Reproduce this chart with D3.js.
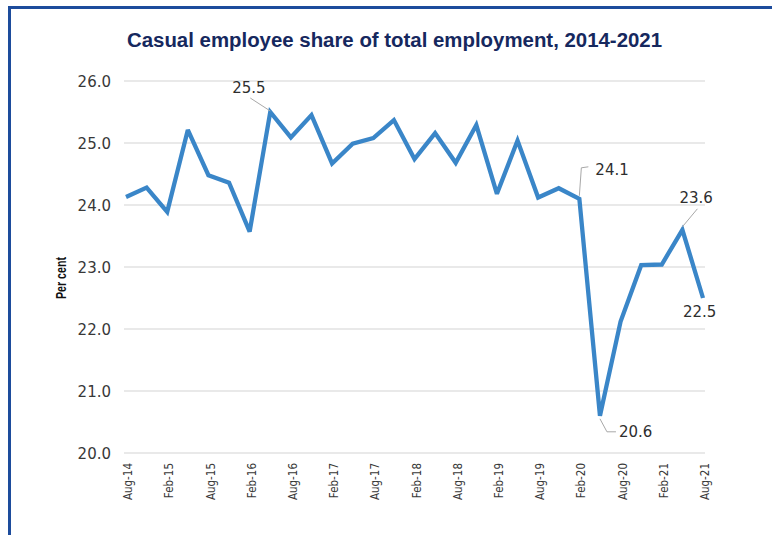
<!DOCTYPE html>
<html>
<head>
<meta charset="utf-8">
<script src="https://cdn.jsdelivr.net/npm/d3@7"></script>
<style>
  html, body { margin: 0; padding: 0; background: #fff; }
  svg { display: block; }
</style>
</head>
<body>
<svg id="chart" width="772" height="535"></svg>
<script>
// Quarterly observations, Aug-14 to Aug-21
const quarters = [
  "Aug-14","Nov-14","Feb-15","May-15","Aug-15","Nov-15","Feb-16","May-16",
  "Aug-16","Nov-16","Feb-17","May-17","Aug-17","Nov-17","Feb-18","May-18",
  "Aug-18","Nov-18","Feb-19","May-19","Aug-19","Nov-19","Feb-20","May-20",
  "Aug-20","Nov-20","Feb-21","May-21","Aug-21"
];
const casualShare = [
  24.13, 24.28, 23.89, 25.21, 24.48, 24.36, 23.57, 25.5,
  25.09, 25.45, 24.67, 24.99, 25.08, 25.37, 24.74, 25.16,
  24.68, 25.29, 24.18, 25.04, 24.12, 24.27, 24.1, 20.6,
  22.12, 23.03, 23.04, 23.6, 22.5
];
const xTickLabels = [
  "Aug-14","Feb-15","Aug-15","Feb-16","Aug-16","Feb-17","Aug-17","Feb-18",
  "Aug-18","Feb-19","Aug-19","Feb-20","Aug-20","Feb-21","Aug-21"
];
const yTickValues = [20, 21, 22, 23, 24, 25, 26];
const labelledQuarters = ["May-16", "Feb-20", "May-20", "May-21", "Aug-21"];

const svg = d3.select("#chart");

// frame lines along the top and left
svg.append("line").attr("x1", 8).attr("x2", 772).attr("y1", 7.5).attr("y2", 7.5)
  .attr("stroke", "#1d4c9c").attr("stroke-width", 3);
svg.append("line").attr("x1", 9.5).attr("x2", 9.5).attr("y1", 6).attr("y2", 535)
  .attr("stroke", "#1d4c9c").attr("stroke-width", 3);

const x = d3.scalePoint().domain(quarters).range([126, 703]);
const y = d3.scaleLinear().domain([20, 26]).range([453, 81]);

// title
svg.append("text")
  .attr("x", 127).attr("y", 47)
  .attr("textLength", 535).attr("lengthAdjust", "spacingAndGlyphs")
  .attr("font-family", "Liberation Sans, Arial, sans-serif")
  .attr("font-weight", "bold").attr("font-size", 19.5)
  .attr("fill", "#16285e")
  .text("Casual employee share of total employment, 2014-2021");

// horizontal gridlines
svg.append("g").selectAll("line").data(yTickValues).join("line")
  .attr("x1", 124).attr("x2", 705)
  .attr("y1", d => y(d)).attr("y2", d => y(d))
  .attr("stroke", "#e2e2e2").attr("stroke-width", 1.5);

// y axis labels
const yAxis = d3.axisLeft(y).tickValues(yTickValues).tickFormat(d3.format(".1f")).tickSize(0).tickPadding(0);
const yg = svg.append("g").attr("transform", "translate(111,0)").call(yAxis);
yg.select(".domain").remove();
yg.selectAll("text")
  .attr("font-family", "DejaVu Sans, Verdana, sans-serif")
  .attr("font-size", 15).attr("fill", "#383838").attr("dy", "0.36em");

// y axis title
svg.append("text")
  .attr("transform", "translate(66,278) rotate(-90)")
  .attr("text-anchor", "middle")
  .attr("textLength", 42).attr("lengthAdjust", "spacingAndGlyphs")
  .attr("font-family", "Liberation Sans, Arial, sans-serif")
  .attr("font-weight", "bold").attr("font-size", 14).attr("fill", "#111")
  .text("Per cent");

// x axis labels (rotated)
const xAxis = d3.axisBottom(x).tickValues(xTickLabels).tickSize(0).tickPadding(0);
const xg = svg.append("g").attr("transform", "translate(0,463)").call(xAxis);
xg.select(".domain").remove();
xg.selectAll("text")
  .attr("font-family", "DejaVu Sans Condensed, DejaVu Sans, sans-serif")
  .attr("font-size", 11.5).attr("fill", "#383838")
  .attr("transform", "rotate(-90)")
  .attr("text-anchor", "end")
  .attr("x", 0).attr("y", 0).attr("dx", 0).attr("dy", "0.36em");
xg.selectAll(".tick").attr("transform", d => `translate(${x(d) + 2},0)`);

// series line
const series = quarters.map((q, i) => ({ q, v: casualShare[i] }));
svg.append("path").datum(series)
  .attr("fill", "none").attr("stroke", "#3a86c8")
  .attr("stroke-width", 4.3).attr("stroke-linejoin", "miter").attr("stroke-miterlimit", 3)
  .attr("d", d3.line().x(d => x(d.q)).y(d => y(d.v)));

// value annotations: text offset and leader path relative to the point
const annotationLayout = {
  "May-16": { dx: -38, dy: -19, leader: [[0, -1], [-20, -14]] },
  "Feb-20": { dx: 16, dy: -24, leader: [[0, -3], [2, -31], [9, -32]] },
  "May-20": { dx: 19, dy: 21, leader: [[0, 3], [7, 16], [16, 16]] },
  "May-21": { dx: -3, dy: -27, leader: [[0, -3], [15, -21]] },
  "Aug-21": { dx: -20, dy: 19, leader: null }
};
const fmt = d3.format(".1f");
labelledQuarters.forEach(q => {
  const i = quarters.indexOf(q);
  const px = x(q), py = y(casualShare[i]);
  const a = annotationLayout[q];
  if (a.leader) {
    svg.append("path")
      .attr("d", d3.line()(a.leader.map(([lx, ly]) => [px + lx, py + ly])))
      .attr("fill", "none").attr("stroke", "#a8a8a8").attr("stroke-width", 1);
  }
  svg.append("text")
    .attr("x", px + a.dx).attr("y", py + a.dy)
    .attr("font-family", "DejaVu Sans, Verdana, sans-serif")
    .attr("font-size", 15).attr("fill", "#2e2e2e")
    .text(fmt(casualShare[i]));
});
</script>
</body>
</html>
